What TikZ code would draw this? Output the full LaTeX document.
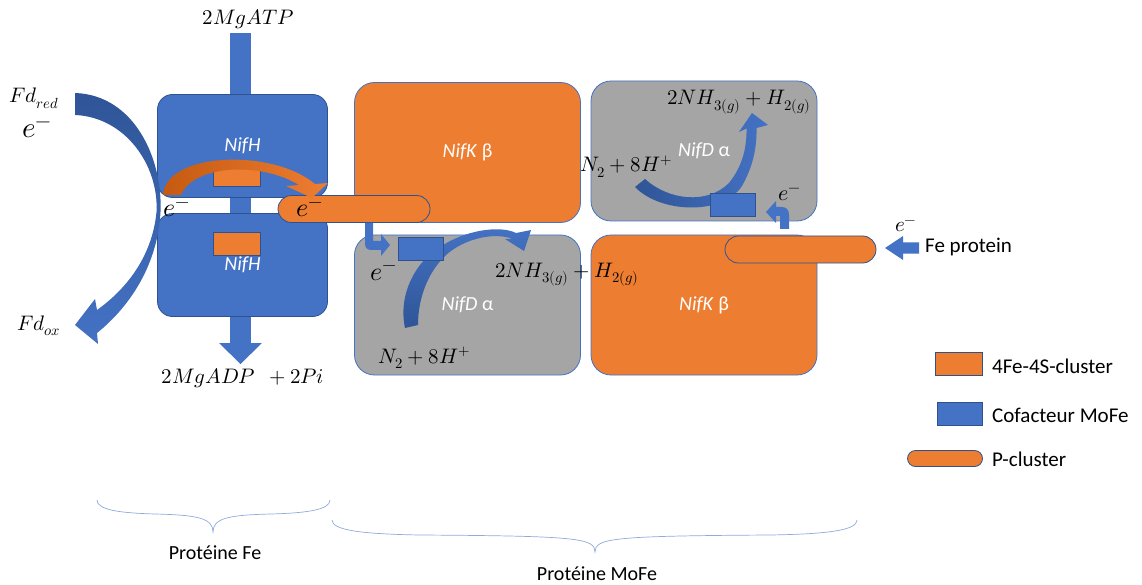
\documentclass[tikz,border=0pt]{standalone}
\usepackage{fontspec}
\usepackage{unicode-math}
\setmainfont{Carlito}
\definecolor{blueF}{HTML}{4472C4}
\definecolor{blueD}{HTML}{2F528F}
\definecolor{blueDD}{HTML}{2F5597}
\definecolor{orangeF}{HTML}{ED7D31}
\definecolor{orangeD}{HTML}{C55A11}
\definecolor{grayF}{HTML}{A5A5A5}
\definecolor{braceC}{HTML}{8FAADC}
\tikzset{
  hbox/.style={draw=blueD, line width=0.8pt, fill=blueF, rounded corners=15pt, minimum width=170pt, minimum height=103pt, inner sep=0pt, text=white, font=\fontsize{20}{24}\selectfont},
  bigbox/.style={draw=blueF, line width=0.8pt, rounded corners=20pt, minimum width=226pt, minimum height=140pt, inner sep=0pt, text=white, font=\fontsize{20}{24}\selectfont},
  kbox/.style={bigbox, fill=orangeF},
  dbox/.style={bigbox, fill=grayF},
  fesq/.style={draw=blueD, line width=0.6pt, fill=orangeF, minimum width=47pt, minimum height=23pt, inner sep=0pt},
  cofac/.style={draw=blueD, line width=0.6pt, fill=blueF, minimum width=45pt, minimum height=23pt, inner sep=0pt},
  pclus/.style={draw=blueD, line width=0.8pt, fill=orangeF, rounded corners=13.5pt, minimum height=27pt, inner sep=0pt},
  rx/.style={font=\fontsize{21}{25}\selectfont, inner sep=0pt, anchor=base west},
  rxc/.style={font=\fontsize{21}{25}\selectfont, inner sep=0pt, anchor=base},
  cal/.style={font=\fontsize{21}{25}\selectfont, inner sep=0pt, anchor=west},
  brl/.style={font=\fontsize{20}{24}\selectfont, inner sep=0pt},
  brc/.style={draw=braceC, line width=0.7pt},
}
\begin{document}
\begin{tikzpicture}[x=1pt,y=-1pt]
\useasboundingbox (0,0) rectangle (1142,585);

% ATP / ADP arrow
\fill[blueF] (230,33) rectangle (251,343);
\fill[blueF] (219,343) -- (262,343) -- (240.5,364) -- cycle;

% Fe protein (NifH dimer)
\node[hbox] (nifH1) at (242.5,146) {\itshape NifH};
\node[hbox] (nifH2) at (242.5,265) {\itshape NifH};
\node[fesq] (fs1) at (236.5,174.5) {};
\node[fesq] (fs2) at (236.5,243.5) {};

% MoFe protein boxes
\node[kbox] (nifK1) at (467.5,152.5) {\itshape NifK\/\upshape\ β};
\node[dbox] (nifD1) at (704,151) {\itshape NifD\/\upshape\ α};
\node[dbox] (nifD2) at (467.5,305) {\itshape NifD\/\upshape\ α};
\node[kbox] (nifK2) at (704,305) {\itshape NifK\/\upshape\ β};

% curved arrow, top NifD
\shade[left color=blueDD, right color=blueF]
  (635,187) .. controls (660,213) and (722,216) .. (742,186)
  .. controls (752,168) and (757,150) .. (756.5,128)
  -- (768,125) -- (752,113) -- (739,132) -- (746.5,128.5)
  .. controls (747,150) and (741,168) .. (729,183)
  .. controls (707,205) and (668,200) .. (645,179) -- cycle;
% curved arrow, bottom NifD
\shade[bottom color=blueDD, top color=blueF]
  (405,328) .. controls (398,295) and (415,262) .. (440,247)
  .. controls (465,230) and (500,225) .. (516,233)
  -- (531,230) -- (524,251) -- (505,239) -- (513,239)
  .. controls (495,232) and (465,238) .. (446,255)
  .. controls (428,272) and (418,298) .. (418,325) -- cycle;

\node[cofac] (cof1) at (732.5,205) {};
\node[cofac] (cof2) at (420.5,248.5) {};

% P-clusters
\node[pclus, minimum width=152pt] (pc1) at (354,209) {};
\node[pclus, minimum width=151pt] (pc2) at (800.5,249.5) {};

% orange curved arrow across NifH
\shade[left color=orangeD, right color=orangeF]
  (163,195) .. controls (166,152) and (272,148) .. (315,184)
  -- (328,183) -- (312,198) -- (286,186) -- (299,185)
  .. controls (262,162) and (194,164) .. (181,195) -- cycle;

% Fd arrow
\shade[top color=blueDD, bottom color=blueF]
  (75,93) .. controls (135,95) and (163,160) .. (160.5,212)
  .. controls (158,262) and (132,305) .. (97,333)
  -- (98,344) -- (75,325) -- (95,299) -- (97,310)
  .. controls (125,290) and (152,258) .. (156.5,212)
  .. controls (159,165) and (125,117) .. (75,115) -- cycle;

% small bent arrows
\fill[blueF] (365,223) -- (365,243) .. controls (365,248) and (367,250) .. (372,250)
  -- (381,250) -- (381,256) -- (390,245) -- (381,234) -- (381,241) -- (373,241) -- (373,223) -- cycle;
\fill[blueF] (789,229) -- (789,215) .. controls (789,209) and (786,207) .. (781,207)
  -- (776,207) -- (776,201) -- (766,212) -- (776,223) -- (776,216) -- (780,216) -- (780,229) -- cycle;
% Fe protein arrow
\fill[blueF] (919,242.5) -- (903,242.5) -- (903,236) -- (885,248) -- (903,260) -- (903,253.5) -- (919,253.5) -- cycle;

% texts
\node[rxc] (atp) at (248.5,25) {$2MgATP$};
\node[rxc] (adp) at (243,383) {$2MgADP\;\,+2Pi$};
\node[rx] (fdred) at (9,103) {$Fd_{red}$};
\node[rx, font=\fontsize{29}{33}\selectfont] (efd) at (22,138) {$e^{-}$};
\node[rx] (fdox) at (17,330) {$Fd_{ox}$};
\node[rx, font=\fontsize{26}{30}\selectfont] (e1) at (163,217) {$e^{-}$};
\node[rx, font=\fontsize{26}{30}\selectfont] (e2) at (296,217) {$e^{-}$};
\node[rx, font=\fontsize{26}{30}\selectfont] (e3) at (370,280) {$e^{-}$};
\node[rx, font=\fontsize{22}{26}\selectfont] (e4) at (778,200.5) {$e^{-}$};
\node[rx, font=\fontsize{21}{25}\selectfont] (e5) at (895,232) {$e^{-}$};
\node[rx] (p1) at (667,105) {$2NH_{3(g)}+H_{2(g)}$};
\node[rx] (r1) at (580,172) {$N_2+8H^{+}$};
\node[rx] (p2) at (495,277) {$2NH_{3(g)}+H_{2(g)}$};
\node[rx] (r2) at (378,363) {$N_2+8H^{+}$};
\node[cal] (feprot) at (925,247) {Fe protein};

% legend
\node[fesq] (lg1) at (958.5,363.5) {};
\node[cofac] (lg2) at (960,413.5) {};
\node[pclus, minimum width=75pt, minimum height=16pt, rounded corners=8pt] (lg3) at (945,458.5) {};
\node[cal] (lt1) at (992,366) {4Fe-4S-cluster};
\node[cal] (lt2) at (992,415) {Cofacteur MoFe};
\node[cal] (lt3) at (992,459) {P-cluster};

% braces
\draw[brc] (97,500) .. controls (97,510) and (120,513) .. (155,514)
  .. controls (197,515) and (213,518) .. (213,532)
  .. controls (213,518) and (229,515) .. (271,514)
  .. controls (306,513) and (330,510) .. (330,500);
\draw[brc] (332,520) .. controls (332,530) and (360,534) .. (420,535)
  .. controls (577,536) and (595,538) .. (595,552)
  .. controls (595,538) and (613,536) .. (770,535)
  .. controls (830,534) and (857,530) .. (857,520);
\node[brl] (bfe) at (215,553) {Protéine Fe};
\node[brl] (bmofe) at (597,574) {Protéine MoFe};
\end{tikzpicture}
\end{document}
